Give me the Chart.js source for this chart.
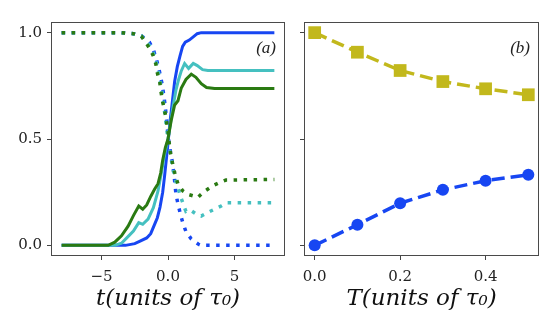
<!DOCTYPE html>
<html>
<head>
<meta charset="utf-8">
<script src="https://cdn.jsdelivr.net/npm/chart.js@4/dist/chart.umd.min.js"></script>
<style>
  html, body { margin: 0; padding: 0; background: #fff; }
  #izq { position: absolute; left: 0; top: 0; }
  #der { position: absolute; left: 290px; top: 0; }
</style>
</head>
<body>
<canvas id="izq" width="290" height="322"></canvas>
<canvas id="der" width="263" height="322"></canvas>
<script>
// Panel (a): time traces, solid = rising, dotted = falling
var greenSolidT = [-8, -4.5, -4, -3.5, -3, -2.6, -2.2, -1.9, -1.6, -1.3, -1.0, -0.75, -0.55, -0.4, -0.2, 0, 0.25, 0.5, 0.75, 1.0, 1.35, 1.75, 2.1, 2.5, 2.9, 3.5, 8];
var greenSolidV = [0, 0, 0.015, 0.045, 0.09, 0.14, 0.185, 0.17, 0.19, 0.23, 0.265, 0.29, 0.34, 0.4, 0.46, 0.5, 0.59, 0.66, 0.68, 0.74, 0.78, 0.805, 0.79, 0.76, 0.742, 0.737, 0.737];

var cyanSolidT = [-8, -4, -3.5, -3.1, -2.6, -2.2, -1.9, -1.5, -1.1, -0.75, -0.5, -0.25, 0, 0.2, 0.4, 0.6, 0.8, 1.0, 1.25, 1.55, 1.9, 2.2, 2.6, 3.0, 8];
var cyanSolidV = [0, 0, 0.01, 0.035, 0.067, 0.107, 0.099, 0.123, 0.177, 0.256, 0.34, 0.43, 0.5, 0.58, 0.66, 0.73, 0.78, 0.82, 0.855, 0.832, 0.855, 0.845, 0.826, 0.822, 0.822];

var blueSolidT = [-8, -3.2, -2.5, -2.1, -1.6, -1.3, -1.0, -0.8, -0.6, -0.4, -0.25, -0.1, 0, 0.15, 0.3, 0.5, 0.7, 0.9, 1.1, 1.3, 1.6, 1.9, 2.2, 2.5, 8];
var blueSolidV = [0, 0, 0.008, 0.02, 0.035, 0.055, 0.1, 0.13, 0.18, 0.25, 0.33, 0.42, 0.48, 0.58, 0.66, 0.77, 0.84, 0.89, 0.935, 0.955, 0.965, 0.98, 0.995, 1.0, 1.0];

var greenDotT = [-8, -3.5, -2.6, -2.0, -1.37, -1.12, -0.92, -0.79, -0.62, -0.54, -0.42, -0.25, -0.12, 0, 0.07, 0.18, 0.33, 0.5, 0.75, 1.12, 1.49, 1.87, 2.24, 2.49, 2.87, 3.36, 3.86, 4.36, 8];
var greenDotV = [1, 1, 0.995, 0.983, 0.925, 0.893, 0.854, 0.807, 0.767, 0.728, 0.68, 0.633, 0.586, 0.539, 0.492, 0.437, 0.39, 0.343, 0.288, 0.256, 0.24, 0.233, 0.225, 0.24, 0.259, 0.28, 0.295, 0.307, 0.31];

var cyanDotT = [-8, -3.5, -2.6, -2.0, -1.4, -1.1, -0.9, -0.6, -0.4, -0.2, 0, 0.2, 0.4, 0.6, 0.8, 1.0, 1.2, 1.35, 1.5, 1.7, 2.1, 2.5, 3.0, 3.5, 4.0, 4.4, 8];
var cyanDotV = [1, 1, 0.995, 0.985, 0.94, 0.905, 0.865, 0.78, 0.7, 0.6, 0.5, 0.42, 0.35, 0.3, 0.26, 0.22, 0.185, 0.16, 0.165, 0.165, 0.148, 0.138, 0.155, 0.17, 0.185, 0.2, 0.2];

var blueDotT = [-8, -3.5, -2.6, -2.0, -1.4, -1.1, -0.85, -0.65, -0.45, -0.3, -0.15, 0, 0.1, 0.25, 0.35, 0.45, 0.52, 0.6, 0.75, 0.92, 1.12, 1.35, 1.75, 2.3, 2.5, 8];
var blueDotV = [1, 1, 0.995, 0.985, 0.955, 0.92, 0.87, 0.82, 0.76, 0.7, 0.62, 0.52, 0.47, 0.42, 0.38, 0.335, 0.29, 0.24, 0.195, 0.15, 0.105, 0.065, 0.03, 0.005, 0, 0];

// Panel (b): values against T
var tempT = [0, 0.1, 0.2, 0.3, 0.4, 0.5];
var squareV = [1.0, 0.908, 0.822, 0.77, 0.736, 0.708];
var circleV = [0, 0.097, 0.198, 0.261, 0.304, 0.332];

// Tick labels
var ticksTa = [-5, 0, 5];
var ticksTb = [0, 0.2, 0.4];
var ticksY = [0, 0.5, 1.0];

var AZUL = '#1746f2';
var CIAN = '#45c0c0';
var VERDE = '#2a7a12';
var AMARILLO = '#c2b81c';

function puntos(xs, ys) {
    return xs.map(function (x, i) { return { x: x, y: ys[i] }; });
}

function linea(xs, ys, color, punteada) {
    return {
        data: puntos(xs, ys),
        borderColor: color,
        borderWidth: punteada ? 3.5 : 3,
        borderDash: punteada ? [3.5, 6.5] : [],
        borderCapStyle: 'butt',
        pointRadius: 0,
        tension: 0,
        fill: false
    };
}

function fijarTicks(valores) {
    return function (scale) {
        scale.ticks = valores.map(function (v) { return { value: v }; });
    };
}

function formatear(v) {
    var s = Number.isInteger(v) && Math.abs(v) >= 1 && v !== 1 ? String(v) : v.toFixed(1);
    return s.replace('-', '\u2212');
}

// Frame around the plot area and the panel tag
var marco = {
    id: 'marco',
    afterDraw: function (chart, args, opts) {
        var a = chart.chartArea;
        var ctx = chart.ctx;
        ctx.save();
        ctx.strokeStyle = '#4a4a4a';
        ctx.lineWidth = 1;
        ctx.strokeRect(a.left + 0.5, a.top + 0.5, a.right - a.left - 1, a.bottom - a.top - 1);
        ctx.fillStyle = '#222';
        ctx.font = 'italic 17px "Liberation Serif", serif';
        ctx.textAlign = 'right';
        ctx.textBaseline = 'alphabetic';
        ctx.fillText(opts.etiqueta, a.right - 9, a.top + 31);
        ctx.restore();
    }
};

var fuenteTicks = { family: '"DejaVu Serif", serif', size: 15 };
var fuenteTitulo = { family: '"DejaVu Serif", serif', size: 23, style: 'italic' };
var gridBase = { display: true, drawOnChartArea: false, drawTicks: true, tickLength: 4, tickColor: '#444', tickWidth: 1 };

var graficaA = new Chart(document.getElementById('izq').getContext('2d'), {
    type: 'line',
    data: {
        datasets: [
            linea(greenSolidT, greenSolidV, VERDE, false),
            linea(greenDotT, greenDotV, VERDE, true),
            linea(cyanSolidT, cyanSolidV, CIAN, false),
            linea(cyanDotT, cyanDotV, CIAN, true),
            linea(blueSolidT, blueSolidV, AZUL, false),
            linea(blueDotT, blueDotV, AZUL, true)
        ]
    },
    options: {
        responsive: false,
        animation: false,
        devicePixelRatio: 1,
        layout: { padding: { top: 22, right: 5, left: 0, bottom: 0 } },
        plugins: { legend: { display: false }, tooltip: { enabled: false }, marco: { etiqueta: '(a)' } },
        scales: {
            x: {
                type: 'linear', min: -8.8, max: 8.8,
                afterBuildTicks: fijarTicks(ticksTa),
                afterFit: function (s) { s.height = 66; },
                grid: gridBase,
                border: { display: false },
                ticks: { font: fuenteTicks, color: '#222', padding: 8, maxRotation: 0, callback: function (v) { return formatear(v); } },
                title: { display: true, text: 't(units of \u03c4\u2080)', font: fuenteTitulo, color: '#111', padding: { top: 0, bottom: 9 } }
            },
            y: {
                type: 'linear', min: -0.05, max: 1.05,
                afterBuildTicks: fijarTicks(ticksY),
                afterFit: function (s) { s.width = 51; },
                grid: gridBase,
                border: { display: false },
                ticks: { font: fuenteTicks, color: '#222', padding: 5, callback: function (v) { return v.toFixed(1); } }
            }
        }
    },
    plugins: [marco]
});

var graficaB = new Chart(document.getElementById('der').getContext('2d'), {
    type: 'line',
    data: {
        datasets: [
            {
                data: puntos(tempT, squareV),
                borderColor: AMARILLO, backgroundColor: AMARILLO,
                borderWidth: 3.5, borderDash: [13, 6],
                pointStyle: 'rect', pointRadius: 9, pointBorderWidth: 0,
                tension: 0, fill: false
            },
            {
                data: puntos(tempT, circleV),
                borderColor: AZUL, backgroundColor: AZUL,
                borderWidth: 3.5, borderDash: [13, 6],
                pointStyle: 'circle', pointRadius: 6, pointBorderWidth: 0,
                tension: 0, fill: false
            }
        ]
    },
    options: {
        responsive: false,
        animation: false,
        devicePixelRatio: 1,
        layout: { padding: { top: 22, right: 14, left: 0, bottom: 0 } },
        plugins: { legend: { display: false }, tooltip: { enabled: false }, marco: { etiqueta: '(b)' } },
        scales: {
            x: {
                type: 'linear', min: -0.025, max: 0.525,
                afterBuildTicks: fijarTicks(ticksTb),
                afterFit: function (s) { s.height = 66; },
                grid: gridBase,
                border: { display: false },
                ticks: { font: fuenteTicks, color: '#222', padding: 8, maxRotation: 0, callback: function (v) { return v.toFixed(1); } },
                title: { display: true, text: 'T(units of \u03c4\u2080)', font: fuenteTitulo, color: '#111', padding: { top: 0, bottom: 9 } }
            },
            y: {
                type: 'linear', min: -0.05, max: 1.05,
                afterBuildTicks: fijarTicks(ticksY),
                afterFit: function (s) { s.width = 14; },
                grid: gridBase,
                border: { display: false },
                ticks: { font: fuenteTicks, padding: 0, callback: function () { return ''; } }
            }
        }
    },
    plugins: [marco]
});
</script>
</body>
</html>
